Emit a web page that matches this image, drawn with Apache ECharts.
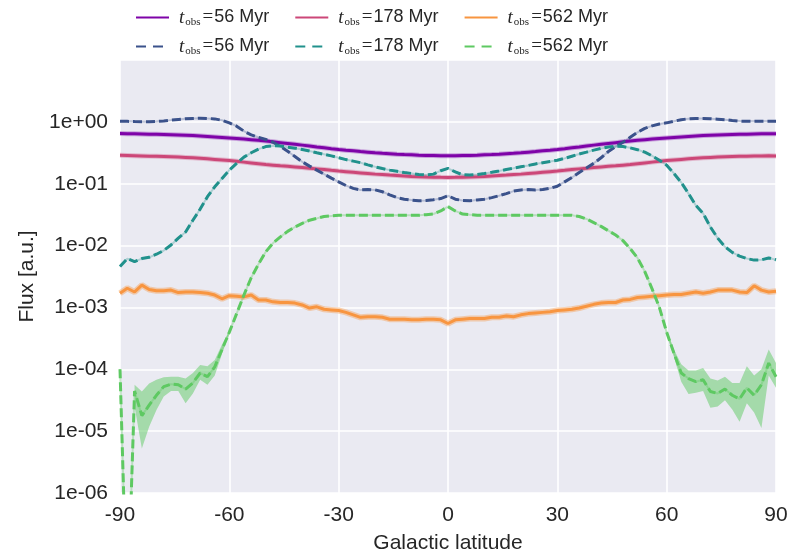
<!DOCTYPE html>
<html>
<head>
<meta charset="utf-8">
<script src="https://cdn.jsdelivr.net/npm/echarts@6/dist/echarts.min.js"></script>
<style>
  html, body { margin: 0; padding: 0; background: #ffffff; }
  #chart { width: 803px; height: 552px; }
</style>
</head>
<body>
<div id="chart"></div>
<script>
// Galactic latitude samples (degrees)
const latitude = [-90,-88,-86,-84,-82,-80,-78,-76,-74,-72,-70,-68,-66,-64,-62,-60,-58,-56,-54,-52,-50,-48,-46,-44,-42,-40,-38,-36,-34,-32,-30,-28,-26,-24,-22,-20,-18,-16,-14,-12,-10,-8,-6,-4,-2,0,2,4,6,8,10,12,14,16,18,20,22,24,26,28,30,32,34,36,38,40,42,44,46,48,50,52,54,56,58,60,62,64,66,68,70,72,74,76,78,80,82,84,86,88,90];

// log10(flux), one value per latitude
const solid56Log = [-0.190,-0.192,-0.194,-0.196,-0.199,-0.202,-0.206,-0.210,-0.214,-0.218,-0.222,-0.229,-0.236,-0.244,-0.252,-0.260,-0.269,-0.279,-0.289,-0.299,-0.310,-0.323,-0.336,-0.349,-0.362,-0.376,-0.390,-0.405,-0.419,-0.433,-0.446,-0.458,-0.469,-0.480,-0.490,-0.500,-0.508,-0.515,-0.522,-0.528,-0.533,-0.538,-0.542,-0.545,-0.548,-0.549,-0.548,-0.545,-0.542,-0.538,-0.533,-0.528,-0.522,-0.515,-0.508,-0.500,-0.490,-0.480,-0.469,-0.458,-0.446,-0.433,-0.419,-0.405,-0.390,-0.376,-0.362,-0.349,-0.336,-0.323,-0.310,-0.299,-0.289,-0.279,-0.269,-0.260,-0.252,-0.244,-0.236,-0.229,-0.222,-0.218,-0.214,-0.210,-0.206,-0.202,-0.199,-0.196,-0.194,-0.192,-0.192];
const solid178Log = [-0.540,-0.543,-0.546,-0.550,-0.554,-0.558,-0.562,-0.566,-0.570,-0.575,-0.580,-0.589,-0.598,-0.607,-0.616,-0.625,-0.638,-0.651,-0.664,-0.677,-0.690,-0.700,-0.710,-0.719,-0.728,-0.737,-0.749,-0.760,-0.772,-0.784,-0.795,-0.805,-0.815,-0.825,-0.835,-0.845,-0.853,-0.861,-0.868,-0.875,-0.882,-0.887,-0.891,-0.894,-0.897,-0.898,-0.897,-0.894,-0.891,-0.887,-0.882,-0.875,-0.868,-0.861,-0.853,-0.845,-0.835,-0.825,-0.815,-0.805,-0.795,-0.784,-0.772,-0.760,-0.749,-0.737,-0.728,-0.719,-0.710,-0.700,-0.690,-0.677,-0.664,-0.651,-0.638,-0.625,-0.616,-0.607,-0.598,-0.589,-0.580,-0.575,-0.570,-0.566,-0.562,-0.558,-0.555,-0.552,-0.550,-0.549,-0.550];
const solid562Log = [-2.77,-2.69,-2.75,-2.64,-2.71,-2.73,-2.73,-2.72,-2.76,-2.75,-2.75,-2.76,-2.77,-2.80,-2.86,-2.81,-2.82,-2.83,-2.80,-2.88,-2.88,-2.91,-2.92,-2.92,-2.93,-2.96,-3.01,-2.99,-3.03,-3.04,-3.05,-3.08,-3.12,-3.16,-3.15,-3.15,-3.16,-3.19,-3.19,-3.19,-3.20,-3.20,-3.19,-3.19,-3.20,-3.26,-3.20,-3.19,-3.18,-3.18,-3.18,-3.16,-3.16,-3.14,-3.15,-3.12,-3.10,-3.09,-3.08,-3.07,-3.05,-3.04,-3.03,-3.01,-2.98,-2.95,-2.93,-2.92,-2.92,-2.88,-2.87,-2.84,-2.83,-2.82,-2.81,-2.80,-2.79,-2.79,-2.77,-2.75,-2.77,-2.75,-2.72,-2.72,-2.72,-2.75,-2.76,-2.65,-2.72,-2.75,-2.74];
const dashed56Log = [0.010,0.008,0.005,0.003,0.002,0.005,0.015,0.028,0.040,0.050,0.055,0.058,0.056,0.048,0.025,-0.016,-0.070,-0.150,-0.210,-0.250,-0.285,-0.330,-0.395,-0.475,-0.560,-0.646,-0.715,-0.780,-0.845,-0.910,-0.970,-1.030,-1.075,-1.100,-1.095,-1.100,-1.130,-1.180,-1.225,-1.250,-1.265,-1.275,-1.272,-1.258,-1.240,-1.195,-1.250,-1.272,-1.275,-1.262,-1.250,-1.225,-1.195,-1.160,-1.120,-1.100,-1.095,-1.100,-1.095,-1.075,-1.040,-0.970,-0.900,-0.820,-0.745,-0.670,-0.580,-0.480,-0.400,-0.330,-0.250,-0.170,-0.105,-0.065,-0.035,-0.016,0.010,0.035,0.050,0.055,0.055,0.050,0.043,0.035,0.022,0.012,0.008,0.008,0.009,0.010,0.010];
const dashed178Log = [-2.34,-2.21,-2.26,-2.21,-2.19,-2.14,-2.08,-1.99,-1.88,-1.78,-1.59,-1.41,-1.21,-1.05,-0.915,-0.78,-0.67,-0.57,-0.50,-0.44,-0.40,-0.385,-0.39,-0.41,-0.425,-0.446,-0.47,-0.50,-0.525,-0.55,-0.58,-0.61,-0.635,-0.66,-0.695,-0.727,-0.755,-0.78,-0.80,-0.82,-0.834,-0.85,-0.86,-0.845,-0.79,-0.753,-0.81,-0.855,-0.86,-0.85,-0.834,-0.815,-0.795,-0.77,-0.75,-0.727,-0.705,-0.68,-0.66,-0.64,-0.62,-0.59,-0.555,-0.52,-0.49,-0.457,-0.43,-0.405,-0.395,-0.40,-0.42,-0.45,-0.49,-0.55,-0.62,-0.70,-0.834,-0.98,-1.16,-1.35,-1.48,-1.70,-1.88,-2.02,-2.11,-2.17,-2.21,-2.235,-2.23,-2.20,-2.23];
const dashed562Log = [-4.00,-8.00,-4.35,-4.75,-4.58,-4.42,-4.28,-4.24,-4.25,-4.32,-4.22,-4.06,-4.12,-3.96,-3.68,-3.40,-3.10,-2.80,-2.52,-2.30,-2.10,-1.96,-1.86,-1.77,-1.70,-1.64,-1.59,-1.56,-1.53,-1.52,-1.51,-1.51,-1.51,-1.51,-1.51,-1.51,-1.51,-1.51,-1.51,-1.51,-1.51,-1.51,-1.50,-1.49,-1.44,-1.37,-1.44,-1.49,-1.50,-1.51,-1.51,-1.51,-1.51,-1.51,-1.51,-1.51,-1.51,-1.51,-1.51,-1.51,-1.51,-1.51,-1.51,-1.53,-1.57,-1.63,-1.69,-1.76,-1.83,-1.92,-2.05,-2.20,-2.42,-2.70,-3.00,-3.40,-3.74,-4.06,-4.15,-4.20,-4.17,-4.36,-4.39,-4.32,-4.42,-4.48,-4.30,-4.42,-4.25,-3.90,-4.12];

// uncertainty band of the dashed 562 Myr curve (log10 flux)
const bandLeftLat = [-86,-84,-82,-80,-78,-76,-74,-72,-70,-68,-66,-64,-62,-60];
const bandLeftLo  = [-4.60,-5.28,-4.93,-4.66,-4.44,-4.35,-4.35,-4.55,-4.39,-4.17,-4.25,-4.10,-3.75,-3.42];
const bandLeftHi  = [-4.25,-4.36,-4.23,-4.17,-4.13,-4.12,-4.12,-4.15,-4.06,-3.93,-3.95,-3.85,-3.60,-3.38];
const bandRightLat = [60,62,64,66,68,70,72,74,76,78,80,82,84,86,88,90];
const bandRightLo  = [-3.43,-3.80,-4.20,-4.40,-4.38,-4.35,-4.62,-4.60,-4.50,-4.65,-4.85,-4.55,-4.70,-4.95,-4.10,-4.30];
const bandRightHi  = [-3.37,-3.68,-3.92,-4.02,-4.02,-3.98,-4.15,-4.18,-4.12,-4.22,-4.22,-3.95,-4.10,-4.00,-3.68,-3.90];

const xTicks = [-90,-60,-30,0,30,60,90];
const legendLabels = {
  s56: '56 Myr', s178: '178 Myr', s562: '562 Myr',
  d56: '56 Myr', d178: '178 Myr', d562: '562 Myr'
};
const colors = {
  s56: '#7e03a8', s178: '#cc4778', s562: '#f89540',
  d56: '#3b528b', d178: '#21918c', d562: '#5ec962'
};

function toPairs(logs) {
  return latitude.map((x, i) => [x, Math.pow(10, logs[i])]);
}

function bandSeries(lat, lo, hi) {
  return {
    type: 'custom',
    silent: true,
    z: 1,
    clip: true,
    data: [[lat[0], Math.pow(10, hi[0])]],
    renderItem: function (params, api) {
      const up = lat.map((x, i) => api.coord([x, Math.pow(10, hi[i])]));
      const dn = lat.map((x, i) => api.coord([x, Math.pow(10, lo[i])])).reverse();
      return {
        type: 'polygon',
        shape: { points: up.concat(dn) },
        style: { fill: colors.d562, opacity: 0.5 }
      };
    }
  };
}

function lineSeries(name, logs, dashed) {
  return {
    name: name,
    type: 'line',
    data: toPairs(logs),
    symbol: 'none',
    clip: true,
    z: dashed ? 4 : 3,
    lineStyle: { color: colors[name], width: 3, type: dashed ? [9, 4] : 'solid' },
    itemStyle: { color: colors[name] }
  };
}
function underlay(name, logs, width, opacity) {
  return {
    name: name + '_band',
    type: 'line',
    data: toPairs(logs),
    symbol: 'none',
    clip: true,
    silent: true,
    z: 2,
    lineStyle: { color: colors[name], width: width, opacity: opacity },
    itemStyle: { color: colors[name] }
  };
}

const richStyles = {
  t: { fontFamily: 'Liberation Serif', fontStyle: 'italic', fontSize: 19, color: '#262626' },
  s: { fontFamily: 'Liberation Serif', fontSize: 11, color: '#262626', padding: [9, 2, 0, 1] },
  e: { fontFamily: 'Liberation Serif', fontSize: 19, color: '#262626', padding: [0, 1, 0, 0] },
  n: { fontFamily: 'Liberation Sans', fontSize: 18, color: '#262626' }
};
function legendFormatter(name) {
  return '{t|t}{s|obs}{e|=}{n|' + legendLabels[name] + '}';
}

function legendBlock(names, top, dashed) {
  const block = {
    data: names,
    left: 135, top: top, padding: 0,
    itemWidth: 33, itemHeight: 14, itemGap: 25,
    icon: 'inherit',
    itemStyle: { opacity: 0 },
    formatter: legendFormatter,
    textStyle: { padding: [0, 0, 0, 5], rich: richStyles },
    selectedMode: false
  };
  if (dashed) block.lineStyle = { type: [10, 7] };
  return block;
}

const chart = echarts.init(document.getElementById('chart'), null, { renderer: 'canvas' });
chart.setOption({
  animation: false,
  backgroundColor: '#ffffff',
  textStyle: { fontFamily: 'Liberation Sans' },
  legend: [
    legendBlock(['s56', 's178', 's562'], 8, false),
    legendBlock(['d56', 'd178', 'd562'], 37, true)
  ],
  grid: {
    left: 120, right: 27, top: 60, bottom: 59,
    outerBoundsMode: 'none',
    containLabel: false,
    show: true, backgroundColor: '#EAEAF2', borderWidth: 0
  },
  xAxis: {
    type: 'value', min: -90, max: 90, interval: 30,
    name: 'Galactic latitude', nameLocation: 'middle', nameGap: 40,
    nameTextStyle: { fontSize: 21, color: '#262626', fontFamily: 'Liberation Sans' },
    axisLine: { show: false }, axisTick: { show: false },
    axisLabel: {
      fontSize: 21, color: '#262626', margin: 12, fontFamily: 'Liberation Sans',
      formatter: v => (xTicks.indexOf(v) >= 0 ? String(v) : '')
    },
    splitLine: { show: true, lineStyle: { color: '#ffffff', width: 1.6 } }
  },
  yAxis: {
    type: 'log', logBase: 10, min: 1e-6, max: 10,
    name: 'Flux [a.u.]', nameLocation: 'middle', nameGap: 80,
    nameTextStyle: { fontSize: 21, color: '#262626', fontFamily: 'Liberation Sans' },
    axisLine: { show: false }, axisTick: { show: false },
    axisLabel: {
      fontSize: 21, color: '#262626', margin: 12, fontFamily: 'Liberation Sans',
      formatter: function (v) {
        const e = Math.round(Math.log10(v));
        if (e > 0) return '';
        return '1e' + (e < 0 ? '-' : '+') + String(Math.abs(e)).padStart(2, '0');
      }
    },
    splitLine: { show: true, lineStyle: { color: '#ffffff', width: 1.6 } }
  },
  series: [
    bandSeries(bandLeftLat, bandLeftLo, bandLeftHi),
    bandSeries(bandRightLat, bandRightLo, bandRightHi),
    underlay('s56', solid56Log, 5, 0.3),
    underlay('s178', solid178Log, 5, 0.3),
    underlay('s562', solid562Log, 6, 0.4),
    underlay('d56', dashed56Log, 2, 0.3),
    underlay('d178', dashed178Log, 2, 0.3),
    underlay('d562', dashed562Log, 2, 0.35),
    lineSeries('s56', solid56Log, false),
    lineSeries('s178', solid178Log, false),
    lineSeries('s562', solid562Log, false),
    lineSeries('d56', dashed56Log, true),
    lineSeries('d178', dashed178Log, true),
    lineSeries('d562', dashed562Log, true)
  ]
});
</script>
</body>
</html>
